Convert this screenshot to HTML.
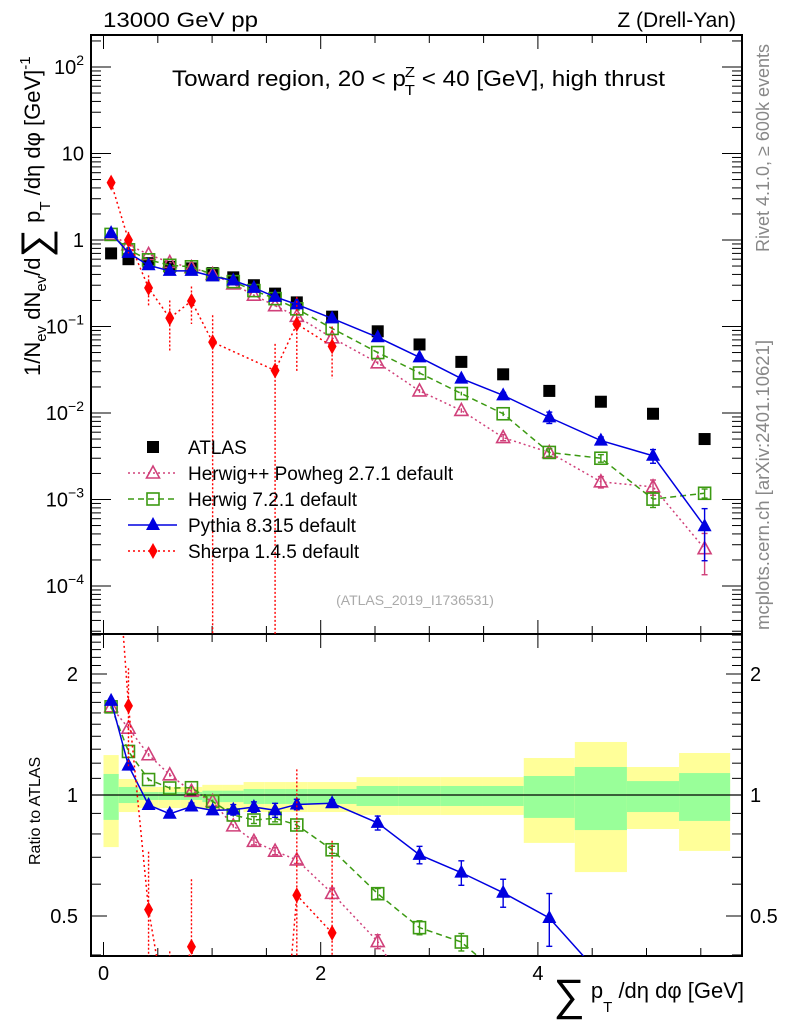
<!DOCTYPE html>
<html><head><meta charset="utf-8"><title>Toward region sum pT</title>
<style>
html,body{margin:0;padding:0;background:#fff;overflow:hidden;width:786px;height:1024px;}
svg{display:block;font-family:"Liberation Sans",sans-serif;}
</style></head>
<body>
<svg id="chart" width="786" height="1024" viewBox="0 0 786 1024" xmlns="http://www.w3.org/2000/svg">
<g id="bands"></g>
<g id="grid"></g>
<g id="series"></g>
<g id="labels">
<text x="103" y="27" font-size="21" textLength="155" lengthAdjust="spacingAndGlyphs">13000 GeV pp</text>
<text x="736" y="27" font-size="21" text-anchor="end">Z (Drell-Yan)</text>
<text x="172" y="86" font-size="22" textLength="493" lengthAdjust="spacingAndGlyphs">Toward region, 20 &lt; p<tspan font-size="15" dy="9" dx="-1">T</tspan><tspan font-size="15" dy="-18" dx="-9">Z</tspan><tspan dy="9"> &lt; 40 [GeV], high thrust</tspan></text>
<text x="415" y="605" font-size="14" fill="#aaaaaa" text-anchor="middle">(ATLAS_2019_I1736531)</text>
<text transform="translate(769,252) rotate(-90)" font-size="18" fill="#888">Rivet 4.1.0, ≥ 600k events</text>
<text transform="translate(769,630) rotate(-90)" font-size="18.5" fill="#888">mcplots.cern.ch [arXiv:2401.10621]</text>
<text transform="translate(40,376) rotate(-90)" font-size="22">1/N<tspan font-size="15" dy="6">ev</tspan><tspan dy="-6"> dN</tspan><tspan font-size="15" dy="6">ev</tspan><tspan dy="-6">/d</tspan><tspan font-size="40" dy="9">∑</tspan><tspan dy="-9"> p</tspan><tspan font-size="15" dy="10">T</tspan><tspan dy="-10"> /dη dφ  [GeV]</tspan><tspan font-size="15" dy="-10">-1</tspan></text>
<text transform="translate(40,865) rotate(-90)" font-size="16">Ratio to ATLAS</text>
<text x="744" y="998" font-size="22" text-anchor="end"><tspan font-size="44" dy="12">∑</tspan><tspan dy="-12"> p</tspan><tspan font-size="15" dy="14">T</tspan><tspan dy="-14"> /dη dφ [GeV]</tspan></text>
</g>
<g id="legend"></g>
</svg>
<script>
// ---- data ----
const binEdges = [0,0.14,0.32,0.51,0.71,0.91,1.10,1.29,1.48,1.68,1.88,2.33,2.72,3.10,3.49,3.87,4.34,4.82,5.30,5.77];
const atlas   = [0.70,0.60,0.54,0.49,0.47,0.415,0.37,0.30,0.24,0.19,0.13,0.088,0.062,0.039,0.028,0.018,0.0135,0.0098,0.0050];
const herwigpp= [1.16,0.88,0.68,0.55,0.48,0.40,0.31,0.23,0.174,0.131,0.074,0.038,0.018,0.0107,0.0052,0.0035,0.0016,0.0014,0.00027];
const herwigppErr=[0.01,0.01,0.01,0.01,0.01,0.01,0.01,0.02,0.02,0.02,0.03,0.04,0.05,0.06,0.08,0.1,0.15,0.2,0.5];
const herwig7 = [1.16,0.77,0.59,0.51,0.49,0.40,0.33,0.26,0.21,0.16,0.095,0.050,0.029,0.0168,0.0098,0.0035,0.0030,0.00101,0.00118];
const herwig7Err=[0.01,0.01,0.01,0.01,0.01,0.01,0.01,0.02,0.02,0.02,0.02,0.03,0.04,0.05,0.06,0.1,0.1,0.2,0.12];
const pythia  = [1.20,0.71,0.51,0.44,0.44,0.38,0.34,0.28,0.22,0.18,0.124,0.075,0.044,0.025,0.016,0.0089,0.0048,0.0032,0.00049];
const pythiaErr=[0.01,0.01,0.01,0.02,0.02,0.02,0.03,0.03,0.04,0.03,0.02,0.04,0.05,0.07,0.08,0.15,0.1,0.18,0.6];
const sherpa  = [4.6,1.0,0.28,0.125,0.197,0.066,null,null,0.031,0.107,0.059,null,null,null,null,null,null,null,null];
const sherpaLo= [4.2,0.7,0.17,0.05,0.107,0,null,null,0,0.030,0.025,null,null,null,null,null,null,null,null];
const sherpaHi= [5.0,1.24,0.39,0.20,0.29,0.135,null,null,0.063,0.22,0.10,null,null,null,null,null,null,null,null];
const totUp = [1.257,1.096,1.047,1.047,1.047,1.06,1.06,1.077,1.077,1.077,1.077,1.108,1.108,1.108,1.108,1.236,1.355,1.174,1.272];
const totDn = [0.742,0.907,0.928,0.928,0.928,0.92,0.92,0.907,0.907,0.907,0.907,0.892,0.892,0.892,0.892,0.76,0.643,0.823,0.726];
const statUp= [1.128,1.047,1.017,1.017,1.017,1.025,1.025,1.035,1.035,1.035,1.035,1.053,1.053,1.053,1.053,1.115,1.174,1.083,1.134];
const statDn= [0.867,0.955,0.972,0.972,0.972,0.96,0.96,0.95,0.95,0.95,0.95,0.939,0.939,0.939,0.939,0.877,0.818,0.907,0.862];
const xTickLabels=[0,2,4];
const yTickExps=[2,1,0,-1,-2,-3,-4];
const ratioTickLabels=[0.5,1,2];

// ---- geometry ----
const L=91,R=742,T=35,M=634,B=956;
const X0=103.5,XS=108.6;
const sx=v=>X0+XS*v;
const Y1=240,DEC=86.5;
const sy=v=>Y1-DEC*Math.log10(v);
const RY1=795,RS=121;
const sr=v=>RY1-RS*Math.log2(v);
const NS='http://www.w3.org/2000/svg';
function mk(tag,attrs,parent){const e=document.createElementNS(NS,tag);for(const k in attrs)e.setAttribute(k,attrs[k]);parent.appendChild(e);return e;}
const gB=document.getElementById('bands'),gG=document.getElementById('grid'),gS=document.getElementById('series'),gL=document.getElementById('legend');
const centers=atlas.map((_,i)=>(binEdges[i]+binEdges[i+1])/2);

const defs=mk('defs',{},document.getElementById('chart'));
const c1=mk('clipPath',{id:'cmain'},defs);mk('rect',{x:L,y:T,width:R-L,height:M-T},c1);
const c2=mk('clipPath',{id:'cratio'},defs);mk('rect',{x:L,y:M,width:R-L,height:B-M},c2);

for(let i=0;i<atlas.length;i++){
  const x1=sx(binEdges[i]),x2=sx(binEdges[i+1]);
  const y=mk('rect',{x:x1,y:sr(totUp[i]),width:x2-x1,height:sr(totDn[i])-sr(totUp[i]),fill:'#ffff99'},gB);
  
  
  const g=mk('rect',{x:x1,y:sr(statUp[i]),width:x2-x1,height:sr(statDn[i])-sr(statUp[i]),fill:'#99ff99'},gB);
  
  
}
mk('line',{x1:L,x2:R,y1:sr(1),y2:sr(1),stroke:'#000','stroke-width':1.3},gB);

mk('rect',{x:L,y:T,width:R-L,height:M-T,fill:'none',stroke:'#000','stroke-width':2},gG);
mk('rect',{x:L,y:M,width:R-L,height:B-M,fill:'none',stroke:'#000','stroke-width':2},gG);
for(let v=0;v<=6;v+=0.5){
  const x=sx(v);if(x>R)break;
  const big=Math.abs(v-Math.round(v/2)*2)<1e-6;
  const len=big?14:8;
  mk('line',{x1:x,x2:x,y1:T,y2:T+len,stroke:'#000','stroke-width':1},gG);
  mk('line',{x1:x,x2:x,y1:M,y2:M-len,stroke:'#000','stroke-width':1},gG);
  mk('line',{x1:x,x2:x,y1:M,y2:M+len,stroke:'#000','stroke-width':1},gG);
  mk('line',{x1:x,x2:x,y1:B,y2:B-len,stroke:'#000','stroke-width':1},gG);
}
xTickLabels.forEach(v=>{const t=mk('text',{x:sx(v),y:980,'font-size':20,'text-anchor':'middle'},gG);t.textContent=v;

});
for(let e=-5;e<=2;e++){
  for(let m=1;m<10;m++){
    const v=m*Math.pow(10,e);const y=sy(v);if(y<T||y>M)continue;
    const len=m==1?20:10;
    mk('line',{x1:L,x2:L+len,y1:y,y2:y,stroke:'#000','stroke-width':1},gG);
    mk('line',{x1:R,x2:R-len,y1:y,y2:y,stroke:'#000','stroke-width':1},gG);
  }
}
yTickExps.forEach(e=>{
  const y=sy(Math.pow(10,e))+7;
  const t=mk('text',{x:84,y:y,'font-size':20,'text-anchor':'end'},gG);
  
  
  if(e==0)t.textContent='1';else if(e==1)t.textContent='10';
  else{t.textContent='10';const s=mk('tspan',{'font-size':14,dy:-9},t);s.textContent=(e<0?'−':'')+Math.abs(e);}
});
for(let v=0.4;v<=2.55;v+=0.1){
  const y=sr(v);if(y<M||y>B)continue;
  const major=[0.5,1,2].some(q=>Math.abs(q-v)<1e-6);
  const len=major?16:10;
  mk('line',{x1:L,x2:L+len,y1:y,y2:y,stroke:'#000','stroke-width':1},gG);
  mk('line',{x1:R,x2:R-len,y1:y,y2:y,stroke:'#000','stroke-width':1},gG);
}
ratioTickLabels.forEach(v=>{
  const y=sr(v)+7;
  const a=mk('text',{x:78,y:y,'font-size':20,'text-anchor':'end'},gG);a.textContent=v;
  
  
  const b=mk('text',{x:750,y:y,'font-size':20},gG);b.textContent=v;
  
  
});

function marker(type,x,y,col,parent){
  let e;
  if(type=='sq')e=mk('rect',{x:x-6,y:y-6,width:12,height:12,fill:'#000'},parent);
  else if(type=='osq')e=mk('rect',{x:x-6,y:y-6,width:12,height:12,fill:'none',stroke:col,'stroke-width':1.6},parent);
  else if(type=='otri')e=mk('polygon',{points:`${x},${y-7} ${x-6.5},${y+5} ${x+6.5},${y+5}`,fill:'none',stroke:col,'stroke-width':1.6},parent);
  else if(type=='tri')e=mk('polygon',{points:`${x},${y-8} ${x-7},${y+5} ${x+7},${y+5}`,fill:col},parent);
  else if(type=='dia')e=mk('polygon',{points:`${x},${y-8} ${x-4.5},${y} ${x},${y+8} ${x+4.5},${y}`,fill:col},parent);
  return e;
}
const series=[
 {name:'herwigpp',vals:herwigpp,err:herwigppErr,col:'#d0407a',m:'otri',dash:'2,3'},
 {name:'herwig7',vals:herwig7,err:herwig7Err,col:'#3c9a12',m:'osq',dash:'6,4'},
 {name:'pythia',vals:pythia,err:pythiaErr,col:'#0000e0',m:'tri',dash:null},
 {name:'sherpa',vals:sherpa,lo:sherpaLo,hi:sherpaHi,col:'#ff0000',m:'dia',dash:'2,3'}
];
function drawPanel(isRatio){
  const clip=isRatio?'url(#cratio)':'url(#cmain)';
  const ys=isRatio?sr:sy;
  const bottom=isRatio?B+5:M+5;
  if(!isRatio){
    const g=mk('g',{'clip-path':clip},gS);
    
    
    atlas.forEach((v,i)=>{const p=marker('sq',sx(centers[i]),sy(v),'#000',g);
      
      });
  }
  series.forEach(s=>{
    const g=mk('g',{'clip-path':clip},gS);
    
    
    const pts=[];
    s.vals.forEach((v,i)=>{
      if(v==null)return;
      const d=isRatio?atlas[i]:1;
      const x=sx(centers[i]);
      const val=v/d;
      let lo,hi;
      if(s.lo){lo=s.lo[i]/d;hi=s.hi[i]/d;}else{lo=val*(1-s.err[i]);hi=val*(1+s.err[i]);}
      const yl=lo>0?ys(lo):bottom, yh=ys(hi);
      mk('line',{x1:x,x2:x,y1:yh,y2:yl,stroke:s.col,'stroke-width':1.4,'stroke-dasharray':s.name=='sherpa'?'2,2':''},g);
      if(s.name!='sherpa'&&Math.abs(yl-yh)>6){
        mk('line',{x1:x-3,x2:x+3,y1:yh,y2:yh,stroke:s.col,'stroke-width':1.4},g);
        mk('line',{x1:x-3,x2:x+3,y1:yl,y2:yl,stroke:s.col,'stroke-width':1.4},g);
      }
      pts.push([x,ys(val)]);
    });
    const pl=mk('polyline',{points:pts.map(p=>p.join(',')).join(' '),fill:'none',stroke:s.col,'stroke-width':1.5},g);
    if(s.dash)pl.setAttribute('stroke-dasharray',s.dash);
    
    
    pts.forEach(p=>{const m=marker(s.m,p[0],p[1],s.col,g);
      
      });
  });
}
drawPanel(false);
drawPanel(true);

const legendItems=[
 {label:'ATLAS',m:'sq',col:'#000',dash:null,line:false},
 {label:'Herwig++ Powheg 2.7.1 default',m:'otri',col:'#d0407a',dash:'2,3',line:true},
 {label:'Herwig 7.2.1 default',m:'osq',col:'#3c9a12',dash:'6,4',line:true},
 {label:'Pythia 8.315 default',m:'tri',col:'#0000e0',dash:null,line:true},
 {label:'Sherpa 1.4.5 default',m:'dia',col:'#ff0000',dash:'2,3',line:true}
];
legendItems.forEach((it,i)=>{
  const y=447+26*i;
  const g=mk('g',{},gL);
  
  
  if(it.line){const l=mk('line',{x1:128,x2:177,y1:y,y2:y,stroke:it.col,'stroke-width':1.5},g);if(it.dash)l.setAttribute('stroke-dasharray',it.dash);}
  marker(it.m,153,y,it.col,g);
  const t=mk('text',{x:188,y:y+7,'font-size':19},g);t.textContent=it.label;
});
</script>
</body></html>
